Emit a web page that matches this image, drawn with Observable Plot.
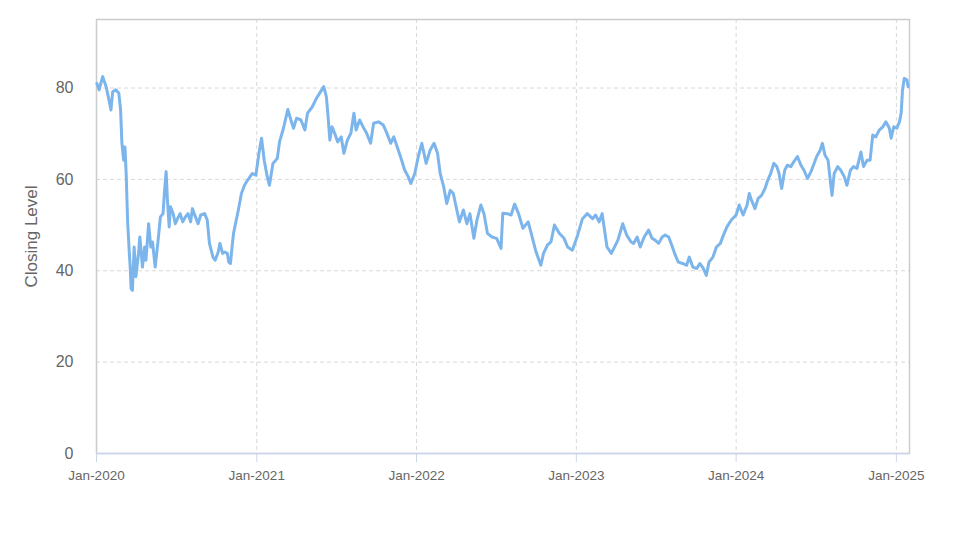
<!DOCTYPE html>
<html><head><meta charset="utf-8">
<script src="https://cdn.jsdelivr.net/npm/d3@7"></script>
<script src="https://cdn.jsdelivr.net/npm/@observablehq/plot@0.6"></script>
<style>body{margin:0;background:#fff}</style>
</head><body><div id="chart"></div>
<script>
const dates = [
"2020-01-02","2020-01-07","2020-01-15","2020-01-23","2020-01-31","2020-02-03","2020-02-07","2020-02-14","2020-02-21","2020-02-25",
"2020-02-28","2020-03-03","2020-03-06","2020-03-09","2020-03-12","2020-03-16","2020-03-18","2020-03-20","2020-03-23","2020-03-27",
"2020-03-31","2020-04-06","2020-04-09","2020-04-15","2020-04-20","2020-04-23","2020-04-29","2020-05-04","2020-05-08","2020-05-14",
"2020-05-20","2020-05-26","2020-06-01","2020-06-04","2020-06-08","2020-06-11","2020-06-15","2020-06-18","2020-06-24","2020-06-29",
"2020-07-06","2020-07-10","2020-07-16","2020-07-22","2020-07-28","2020-08-03","2020-08-07","2020-08-14","2020-08-20","2020-08-26",
"2020-09-04","2020-09-10","2020-09-15","2020-09-23","2020-09-28","2020-10-05","2020-10-09","2020-10-15","2020-10-20","2020-10-26",
"2020-10-29","2020-11-02","2020-11-06","2020-11-09","2020-11-20","2020-11-27","2020-12-04","2020-12-11","2020-12-22","2020-12-30",
"2021-01-06","2021-01-12","2021-01-18","2021-01-25","2021-01-30","2021-02-07","2021-02-17","2021-02-22","2021-03-03","2021-03-13",
"2021-03-20","2021-03-26","2021-04-02","2021-04-12","2021-04-21","2021-04-27","2021-05-08","2021-05-17","2021-05-27","2021-06-03",
"2021-06-09","2021-06-13","2021-06-17","2021-06-22","2021-06-28","2021-07-05","2021-07-13","2021-07-19","2021-07-27","2021-08-04",
"2021-08-11","2021-08-16","2021-08-24","2021-09-01","2021-09-09","2021-09-18","2021-09-25","2021-10-06","2021-10-17","2021-10-24",
"2021-11-03","2021-11-10","2021-11-18","2021-11-28","2021-12-05","2021-12-13","2021-12-19","2021-12-28","2022-01-05","2022-01-13",
"2022-01-23","2022-02-01","2022-02-10","2022-02-18","2022-02-24","2022-03-04","2022-03-11","2022-03-19","2022-03-26","2022-04-03",
"2022-04-09","2022-04-18","2022-04-26","2022-05-03","2022-05-12","2022-05-19","2022-05-28","2022-06-04","2022-06-12","2022-06-22",
"2022-07-03","2022-07-13","2022-07-17","2022-07-27","2022-08-05","2022-08-13","2022-08-22","2022-09-01","2022-09-13","2022-09-20",
"2022-10-01","2022-10-12","2022-10-18","2022-10-27","2022-11-04","2022-11-12","2022-11-23","2022-12-04","2022-12-12","2022-12-23",
"2023-01-04","2023-01-15","2023-01-26","2023-02-07","2023-02-14","2023-02-22","2023-03-01","2023-03-12","2023-03-22","2023-04-06",
"2023-04-17","2023-04-26","2023-05-06","2023-05-12","2023-05-20","2023-05-27","2023-06-05","2023-06-15","2023-06-23","2023-06-30",
"2023-07-08","2023-07-16","2023-07-23","2023-07-31","2023-08-07","2023-08-15","2023-08-22","2023-09-01","2023-09-10","2023-09-16",
"2023-09-24","2023-10-03","2023-10-10","2023-10-18","2023-10-25","2023-10-31","2023-11-09","2023-11-17","2023-11-26","2023-12-03",
"2023-12-11","2023-12-21","2024-01-01","2024-01-08","2024-01-17","2024-01-26","2024-01-31","2024-02-05","2024-02-13","2024-02-20",
"2024-02-28","2024-03-07","2024-03-12","2024-03-20","2024-03-27","2024-04-03","2024-04-08","2024-04-14","2024-04-21","2024-04-27",
"2024-05-05","2024-05-12","2024-05-20","2024-05-28","2024-06-04","2024-06-12","2024-06-20","2024-06-27","2024-07-03","2024-07-11",
"2024-07-16","2024-07-22","2024-07-29","2024-08-03","2024-08-07","2024-08-12","2024-08-20","2024-08-27","2024-09-04","2024-09-10",
"2024-09-18","2024-09-25","2024-10-03","2024-10-12","2024-10-18","2024-10-26","2024-11-02","2024-11-08","2024-11-15","2024-11-23",
"2024-12-01","2024-12-08","2024-12-16","2024-12-20","2024-12-26","2025-01-02","2025-01-08","2025-01-12","2025-01-15","2025-01-19",
"2025-01-25","2025-01-28"
];
const closes = [
81.0,79.6,82.5,80.3,76.7,75.2,79.2,79.6,78.9,75.2,
68.0,64.2,67.1,60.6,51.0,43.8,40.8,36.1,35.7,45.2,
38.7,43.8,47.4,40.8,45.2,42.3,50.3,45.2,46.3,40.8,
46.0,51.8,52.5,56.9,61.7,55.5,49.6,54.0,52.5,50.3,
51.8,52.5,50.7,51.8,52.5,50.7,53.6,51.8,50.3,52.2,
52.5,51.1,46.0,43.0,42.3,44.1,46.0,43.8,44.1,43.8,
41.9,41.6,45.5,48.2,53.3,56.9,58.7,59.8,61.3,60.9,
65.7,69.0,64.2,60.6,58.7,63.5,64.6,68.2,71.2,75.3,
73.0,71.2,73.4,73.0,70.8,74.5,75.9,77.7,79.2,80.3,
78.1,73.7,68.6,71.5,70.1,68.2,69.3,65.7,68.6,70.1,
74.5,70.8,73.0,71.5,70.1,67.9,72.3,72.6,71.9,70.4,
67.9,69.3,67.1,64.2,62.0,60.6,59.1,61.3,65.0,67.9,
63.5,66.4,67.9,65.7,61.3,58.4,54.7,57.6,56.9,53.3,
50.7,53.3,50.3,52.5,47.1,51.1,54.4,52.5,48.2,47.4,
47.1,44.9,52.6,52.5,52.2,54.6,52.5,49.3,50.7,48.2,
44.1,41.2,43.8,45.6,46.3,50.0,48.2,47.1,45.2,44.5,
47.8,51.4,52.5,51.4,52.2,50.7,52.5,45.2,43.8,46.7,
50.3,47.8,46.3,46.0,47.4,45.2,47.4,48.9,47.1,46.7,
46.0,47.4,47.8,47.4,45.6,43.4,41.9,41.6,41.2,43.0,
40.8,40.5,41.6,40.5,39.0,41.9,43.0,45.2,46.0,47.8,
49.6,51.1,52.2,54.4,52.2,54.4,56.9,55.5,53.6,55.8,
56.5,58.0,59.5,61.3,63.5,62.8,61.3,58.0,62.0,63.1,
62.8,63.9,65.0,63.1,62.0,60.2,61.7,63.5,65.0,66.4,
67.9,65.3,64.2,59.8,56.5,61.3,62.8,62.0,60.6,58.7,
62.0,62.8,62.4,66.0,62.8,64.2,64.2,69.7,69.3,70.8,
71.5,72.6,71.2,69.0,71.5,71.2,72.6,74.5,79.6,82.1,
81.8,80.3
];
const yTicks = [0, 20, 40, 60, 80];
const xTickDates = ["2020-01-01","2021-01-01","2022-01-01","2023-01-01","2024-01-01","2025-01-01"];
const xDomain = ["2020-01-01", "2025-01-31"];
const yDomain = [0, 95];
const yTitle = "Closing Level";

const data = dates.map((d, i) => ({date: new Date(d), close: closes[i]}));
const xt = xTickDates.map(d => new Date(d));

const chart = Plot.plot({
  width: 974, height: 547,
  marginLeft: 96, marginRight: 65, marginTop: 19, marginBottom: 94,
  style: {fontFamily: "'Liberation Sans', Arial, sans-serif", background: "#fff", color: "#666"},
  x: {type: "utc", domain: xDomain.map(d => new Date(d))},
  y: {domain: yDomain},
  marks: [
    Plot.gridY(yTicks.slice(1), {stroke: "#d8d8d8", strokeOpacity: 1, strokeDasharray: "4,3"}),
    Plot.gridX(xt.slice(1), {stroke: "#d8d8d8", strokeOpacity: 1, strokeDasharray: "4,3"}),
    Plot.frame({stroke: "#cccccc", strokeWidth: 1.5}),
    Plot.ruleY([0], {stroke: "#ccd6eb", strokeWidth: 1.5}),
    Plot.axisX(xt, {tickSize: 9, tickPadding: 8, stroke: "#ccd6eb", fill: "#666", fontSize: 13.5, tickFormat: d3.utcFormat("%b-%Y"), label: null}),
    Plot.axisY(yTicks, {tickSize: 0, tickPadding: 23, fill: "#666", fontSize: 16, label: null}),
    Plot.text([yTitle], {frameAnchor: "left", textAnchor: "middle", dx: -65, rotate: -90, fontSize: 17, fill: "#666"}),
    Plot.line(data, {x: "date", y: "close", stroke: "#7cb5ec", strokeWidth: 3, strokeLinejoin: "round", strokeLinecap: "round"})
  ]
});
document.getElementById("chart").append(chart);
</script>
</body></html>
